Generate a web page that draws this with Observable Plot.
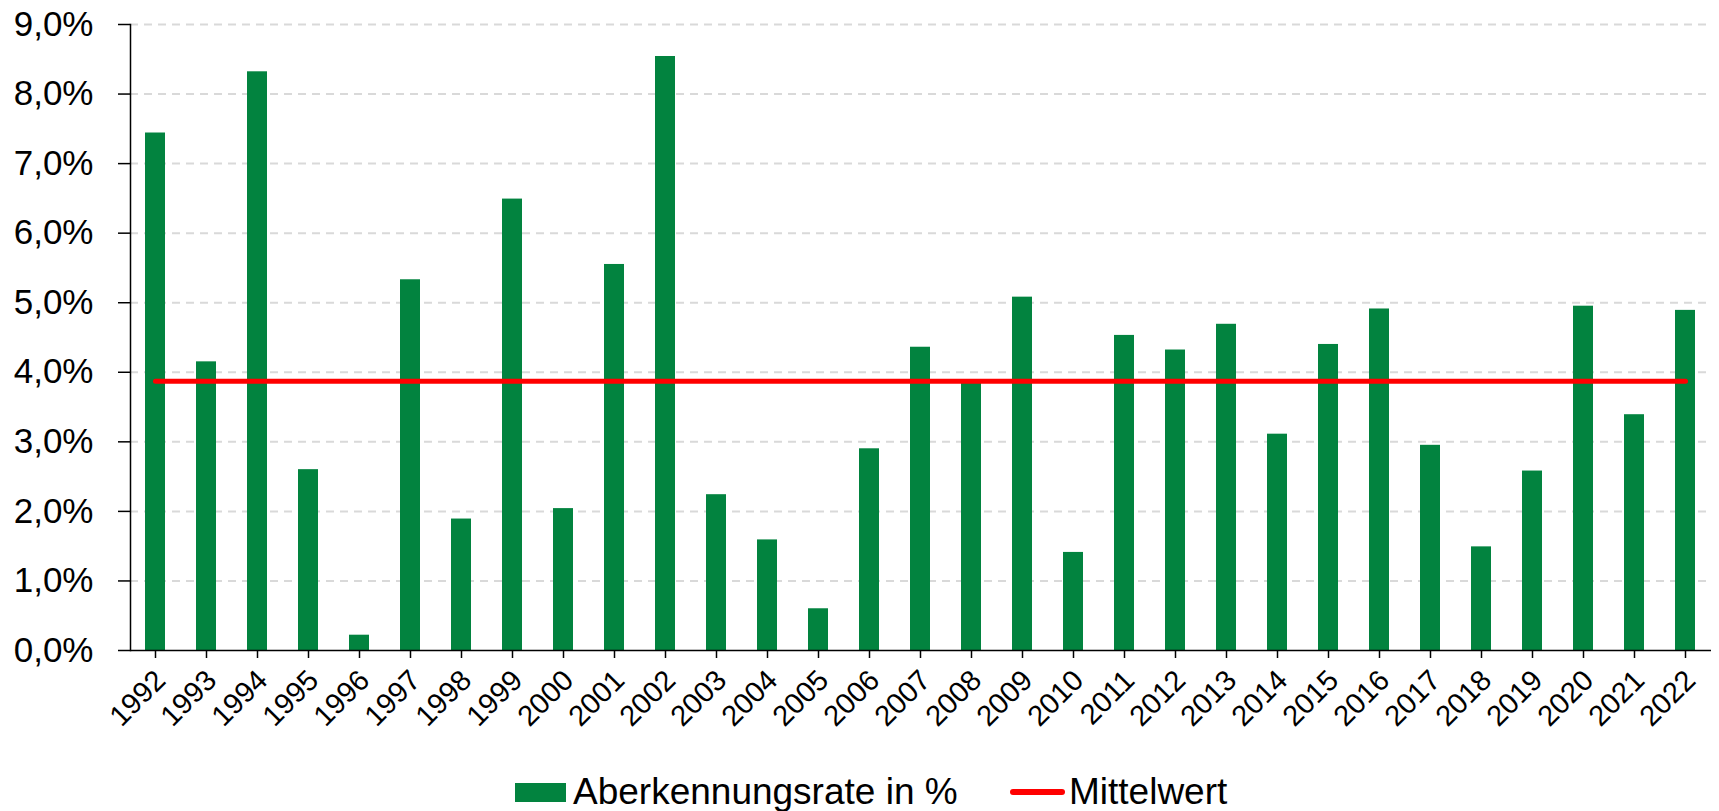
<!DOCTYPE html>
<html>
<head>
<meta charset="utf-8">
<script src="https://cdn.jsdelivr.net/npm/d3@7"></script>
<script src="https://cdn.jsdelivr.net/npm/@observablehq/plot@0.6"></script>
<style>
  html, body { margin: 0; padding: 0; background: #fff; }
  body { width: 1719px; height: 811px; overflow: hidden; font-family: "Liberation Sans", Arial, sans-serif; }
  #chart svg { display: block; }
  #legend { position: relative; height: 46px; width: 1719px; }
  #legend .sw { position: absolute; }
  #legend .lbl { position: absolute; font-size: 37px; line-height: 37px; color: #000; white-space: nowrap; }
</style>
</head>
<body>
<div id="chart"></div>
<div id="legend"></div>
<script>
const years = ["1992","1993","1994","1995","1996","1997","1998","1999","2000","2001","2002","2003","2004","2005","2006","2007","2008","2009","2010","2011","2012","2013","2014","2015","2016","2017","2018","2019","2020","2021","2022"];
const rates = [7.44,4.15,8.32,2.60,0.22,5.33,1.89,6.49,2.04,5.55,8.54,2.24,1.59,0.60,2.90,4.36,3.85,5.08,1.41,4.53,4.32,4.69,3.11,4.40,4.91,2.95,1.49,2.58,4.95,3.39,4.89];
const mittelwert = 3.87;
const yTicks = [0,1,2,3,4,5,6,7,8,9];
const gridTicks = [1,2,3,4,5,6,7,8,9];
const seriesNames = ["Aberkennungsrate in %", "Mittelwert"];
const colors = ["#02833F", "#FF0000"];

const data = years.map((y, i) => ({year: y, rate: rates[i], mean: mittelwert}));

const plot = Plot.plot({
  width: 1719,
  height: 765,
  marginLeft: 130,
  marginRight: 8,
  marginTop: 24,
  marginBottom: 115,
  style: {fontFamily: "'Liberation Sans', Arial, sans-serif", color: "#000", background: "#fff"},
  x: {domain: years, paddingInner: 0.6, paddingOuter: 0.3, label: null},
  y: {domain: [0, 9], label: null},
  marks: [
    Plot.ruleY(gridTicks, {stroke: "#d9d9d9", strokeWidth: 2, strokeDasharray: "8,6"}),
    Plot.barY(data, {x: "year", y: "rate", fill: colors[0]}),
    Plot.lineY(data, {x: "year", y: "mean", stroke: colors[1], strokeWidth: 5, strokeLinecap: "round"}),
    Plot.ruleY([0], {stroke: "#000", strokeWidth: 1.5}),
    Plot.frame({anchor: "left", stroke: "#000", strokeWidth: 1.5}),
    Plot.axisY({ticks: yTicks, tickFormat: d => d.toFixed(1).replace(".", ",") + "%", fontSize: 35, tickSize: 12, tickPadding: 25, strokeWidth: 1.5, label: null}),
    Plot.axisX({tickSize: 8, text: null, strokeWidth: 1.5, label: null}),
    Plot.axisX({tickRotate: -45, fontSize: 29, tickSize: 0, tickPadding: 25, dx: 5, label: null})
  ]
});
document.getElementById("chart").appendChild(plot);

const legend = document.getElementById("legend");
const items = [
  {name: seriesNames[0], color: colors[0], type: "rect", swLeft: 515, txtLeft: 573},
  {name: seriesNames[1], color: colors[1], type: "line", swLeft: 1010, txtLeft: 1069}
];
items.forEach(it => {
  const sw = document.createElement("div");
  sw.className = "sw";
  sw.style.left = it.swLeft + "px";
  sw.style.background = it.color;
  if (it.type === "rect") {
    sw.style.top = "18px"; sw.style.width = "51px"; sw.style.height = "19px";
  } else {
    sw.style.top = "24px"; sw.style.width = "55px"; sw.style.height = "6px"; sw.style.borderRadius = "3px";
  }
  legend.appendChild(sw);
  const t = document.createElement("div");
  t.className = "lbl";
  t.style.left = it.txtLeft + "px";
  t.style.top = "8px";
  t.textContent = it.name;
  legend.appendChild(t);
});
</script>
</body>
</html>
